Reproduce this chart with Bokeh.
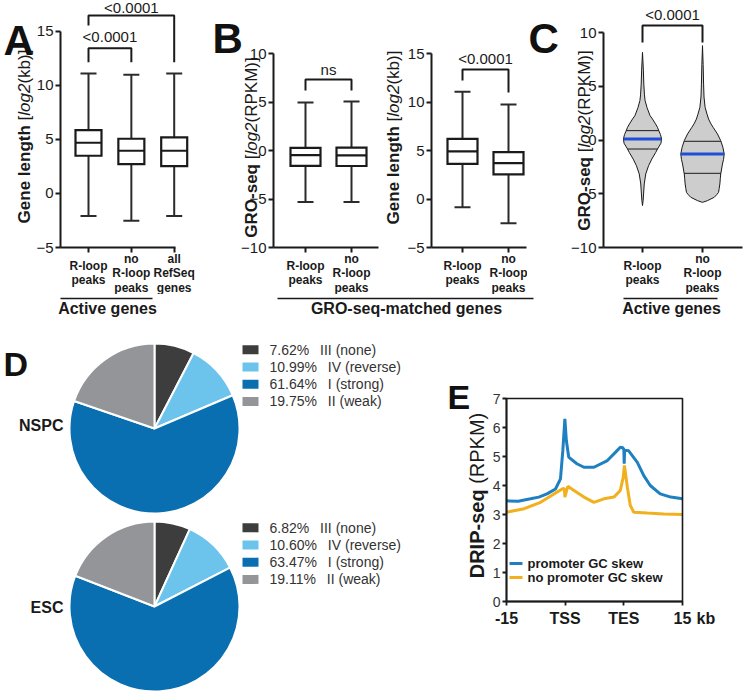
import math
import numpy as np
from bokeh.plotting import figure
from bokeh.models import Range1d, FixedTicker, BoxAnnotation
from bokeh.layouts import column, row
from bokeh.core.properties import value
from bokeh.embed import file_html
from bokeh.resources import INLINE

FONT = "Liberation Sans"
INK = "#1a1a1a"

# ---------------------------------------------------------------- data
# Panel A: gene length [log2(kb)] of active genes
a_categories = ["R-loop\npeaks", "no\nR-loop\npeaks", "all\nRefSeq\ngenes"]
a_low = [-2.1, -2.53, -2.1]
a_q1 = [3.48, 2.71, 2.52]
a_median = [4.68, 3.94, 3.94]
a_q3 = [5.85, 5.05, 5.17]
a_high = [11.09, 10.96, 11.09]
a_yticks = [-5, 0, 5, 10, 15]
a_pvalues = ["<0.0001", "<0.0001"]

# Panel B left: GRO-seq [log2(RPKM)] of GRO-seq-matched genes
b1_categories = ["R-loop\npeaks", "no\nR-loop\npeaks"]
b1_low = [-5.3, -5.3]
b1_q1 = [-1.58, -1.6]
b1_median = [-0.48, -0.5]
b1_q3 = [0.27, 0.3]
b1_high = [4.95, 5.05]
b1_yticks = [-10, -5, 0, 5, 10]
b1_pvalue = "ns"

# Panel B right: gene length [log2(kb)] of GRO-seq-matched genes
b2_categories = ["R-loop\npeaks", "no\nR-loop\npeaks"]
b2_low = [-0.85, -2.49]
b2_q1 = [3.63, 2.53]
b2_median = [4.9, 3.69]
b2_q3 = [6.2, 4.83]
b2_high = [11.05, 9.74]
b2_yticks = [-5, 0, 5, 10, 15]
b2_pvalue = "<0.0001"

# Panel C: GRO-seq violins of active genes (relative density profiles)
c_categories = ["R-loop\npeaks", "no\nR-loop\npeaks"]
c1_y = [8.15, 6.5, 5.2, 4.2, 3.66, 3.0, 2.26, 1.95, 1.5, 1.18, 0.87, 0.5, 0.09,
        -0.3, -0.84, -1.15, -1.77, -2.39, -3.16, -4.09, -5.02, -5.6, -6.1]
c1_density = [0.0, 0.04, 0.06, 0.09, 0.12, 0.21, 0.35, 0.46, 0.60, 0.69, 0.75, 0.83, 0.88,
              0.85, 0.69, 0.61, 0.43, 0.28, 0.15, 0.08, 0.05, 0.03, 0.0]
c2_y = [8.78, 7.0, 5.2, 4.0, 3.04, 2.4, 1.95, 1.5, 1.18, 0.56, -0.06, -0.68, -1.3,
        -1.8, -2.23, -2.7, -3.16, -3.6, -4.09, -4.5, -4.87, -5.1, -5.33, -5.64, -5.8]
c2_density = [0.0, 0.03, 0.05, 0.07, 0.12, 0.21, 0.28, 0.39, 0.49, 0.69, 0.84, 0.94, 1.0,
              0.97, 0.92, 0.88, 0.84, 0.82, 0.80, 0.77, 0.74, 0.65, 0.54, 0.23, 0.0]
c_q3 = [0.87, -0.12]
c_median = [0.09, -1.3]
c_q1 = [-0.84, -3.1]
c_yticks = [-10, -5, 0, 5, 10]
c_pvalue = "<0.0001"

# Panel D: promoter GC-skew classes
d_classes = ["III (none)", "IV (reverse)", "I (strong)", "II (weak)"]
d_nspc = [7.62, 10.99, 61.64, 19.75]
d_esc = [6.82, 10.60, 63.47, 19.11]
d_colors = ["#3d3d3d", "#6cc4ec", "#0a6fb1", "#939598"]

# Panel E: DRIP-seq metaplot (-15 kb, TSS, TES, +15 kb -> 0, 1, 2, 3)
e_xticks = [0, 1, 2, 3]
e_xtick_labels = ["-15", "TSS", "TES", "15"]
e_yticks = [0, 1, 2, 3, 4, 5, 6, 7]
e_blue_x = [0.0, 0.2, 0.41, 0.55, 0.69, 0.835, 0.92, 0.96, 0.995, 1.02, 1.06, 1.2, 1.32,
            1.49, 1.72, 1.86, 1.94, 1.98, 2.0, 2.006, 2.014, 2.08, 2.23, 2.34, 2.45,
            2.62, 2.8, 3.0]
e_blue_y = [3.47, 3.46, 3.54, 3.6, 3.71, 3.88, 4.23, 5.2, 6.3, 5.55, 4.98, 4.75, 4.63,
            4.63, 4.86, 5.15, 5.32, 5.3, 5.25, 4.75, 5.22, 5.2, 4.8, 4.34, 4.0,
            3.71, 3.6, 3.54]
e_orange_x = [0.0, 0.3, 0.58, 0.81, 0.95, 0.985, 0.995, 1.045, 1.15, 1.32, 1.49, 1.66,
              1.83, 1.94, 1.99, 2.01, 2.06, 2.11, 2.17, 2.4, 2.68, 3.0]
e_orange_y = [3.08, 3.2, 3.42, 3.71, 3.88, 3.9, 3.6, 3.97, 3.83, 3.6, 3.42, 3.54,
              3.6, 3.83, 4.29, 4.69, 3.94, 3.31, 3.08, 3.05, 3.02, 3.0]
e_series = ["promoter GC skew", "no promoter GC skew"]
E_BLUE = "#1f80c1"
E_ORANGE = "#f1b11f"

# ---------------------------------------------------------------- helpers
W_REG = {' ': 278, '[': 278, ']': 278, '(': 333, ')': 333, 'l': 222, 'o': 556, 'g': 556,
         '2': 556, 'k': 500, 'b': 556, 'R': 722, 'P': 667, 'K': 667, 'M': 833}
W_BOLD = {'G': 778, 'e': 556, 'n': 611, ' ': 278, 'l': 278, 'g': 611, 't': 333, 'h': 611,
          'R': 722, 'O': 778, '-': 333, 's': 556, 'q': 611, 'D': 722, 'I': 278, 'P': 667}


def text_w(s, style, size):
    tab = W_BOLD if style == "bold" else W_REG
    return sum(tab.get(c, 556) for c in s) * size / 1000.0


def make_fig(width, height, xr, yr, axes=True):
    kw = dict(width=width, height=height, x_range=Range1d(*xr), y_range=Range1d(*yr),
              output_backend="svg", toolbar_location=None, tools="", title=None,
              min_border_left=0, min_border_right=0, min_border_top=0, min_border_bottom=0)
    if not axes:
        kw.update(x_axis_type=None, y_axis_type=None)
    p = figure(**kw)
    p.grid.visible = False
    p.outline_line_color = None
    p.background_fill_color = "white"
    p.border_fill_color = "white"
    return p


def style_axis(ax, width=2, tick_out=5):
    ax.axis_line_width = width
    ax.axis_line_color = INK
    ax.major_tick_line_width = width
    ax.major_tick_line_color = INK
    ax.major_tick_out = tick_out
    ax.major_tick_in = 0
    ax.minor_tick_line_color = None


def txt(p, x, y, texts, size, style="normal", align="center", baseline="middle",
        angle=0.0, color=INK):
    p.text(x=x, y=y, text=texts, text_font=value(FONT), text_font_size=f"{size}px",
           text_font_style=style, text_align=align, text_baseline=baseline, angle=angle,
           text_color=color)


def add_ylabel(p, fx, fy, x_R, center_R, pieces, size):
    total = sum(text_w(t, s, size) for t, s in pieces)
    pos = center_R + total / 2.0
    for t, s in pieces:
        if t.strip():
            txt(p, [fx(x_R)], [fy(pos)], [t.strip()], size, style=s, align="left",
                angle=math.pi / 2)
        pos -= text_w(t, s, size)


TOP_H = 294
FRAME_BOTTOM = 247
FOOT_H = 28
BOT_H = 369
TOTAL_W = 743


def box_panel(g, cats, lows, q1, med, q3, highs, yticks, box_px, cap_px):
    fx = lambda X: (X - g["cat0"]) / g["xppu"]
    fy = lambda Y: g["ybottom"] + (FRAME_BOTTOM - Y) / g["yppu"]
    p = make_fig(g["width"], TOP_H, (fx(g["left"]), fx(g["left"] + g["width"])),
                 (fy(TOP_H), fy(0)))
    xs = list(range(len(cats)))
    if lows is not None:
        hb = box_px / 2.0 / g["xppu"]
        hc = cap_px / 2.0 / g["xppu"]
        p.segment(x0=xs, y0=q3, x1=xs, y1=highs, line_color="#2b2b2b", line_width=2)
        p.segment(x0=xs, y0=lows, x1=xs, y1=q1, line_color="#2b2b2b", line_width=2)
        p.segment(x0=[x - hc for x in xs], y0=highs, x1=[x + hc for x in xs], y1=highs,
                  line_color="#2b2b2b", line_width=2)
        p.segment(x0=[x - hc for x in xs], y0=lows, x1=[x + hc for x in xs], y1=lows,
                  line_color="#2b2b2b", line_width=2)
        p.quad(left=[x - hb for x in xs], right=[x + hb for x in xs], bottom=q1, top=q3,
               fill_color="white", line_color=INK, line_width=2.2, line_join="miter")
        p.segment(x0=[x - hb for x in xs], y0=med, x1=[x + hb for x in xs], y1=med,
                  line_color=INK, line_width=2.2)
    xa, ya = p.xaxis[0], p.yaxis[0]
    style_axis(xa)
    style_axis(ya)
    xa.fixed_location = yticks[0]
    ya.fixed_location = fx(g["axis"])
    xa.ticker = FixedTicker(ticks=xs)
    xa.bounds = (fx(g["axis"]), fx(g["axis_end"]))
    xa.major_label_text_color = None
    ya.ticker = FixedTicker(ticks=yticks)
    ya.bounds = (yticks[0], yticks[-1])
    ya.major_label_text_font = FONT
    ya.major_label_text_font_size = "15px"
    ya.major_label_text_color = INK
    ya.major_label_standoff = 2
    # category labels (multi-line, vertically centred)
    cx, cy, ct = [], [], []
    for i, c in enumerate(cats):
        lines = c.split("\n")
        n = len(lines)
        for j, ln in enumerate(lines):
            cx.append(i)
            cy.append(fy(272.5 + (j - (n - 1) / 2.0) * 14.5))
            ct.append(ln)
    txt(p, cx, cy, ct, 12, style="bold")
    return p, fx, fy


def bracket(p, fy, x0, x1, top_R, left_R, right_R, text, text_R, size=15):
    p.line(x=[x0, x0, x1, x1], y=[fy(left_R), fy(top_R), fy(top_R), fy(right_R)],
           line_color=INK, line_width=2)
    txt(p, [(x0 + x1) / 2.0], [fy(text_R)], [text], size)


def letter(p, fx, fy, x_R, base_R, s, size=42):
    txt(p, [fx(x_R)], [fy(base_R)], [s], size, style="bold", align="left",
        baseline="alphabetic", color="#111111")


GENE_LEN = [("Gene length ", "bold"), ("[", "normal"), ("log2", "italic"), ("(kb)]", "normal")]
GRO_SEQ = [("GRO-seq ", "bold"), ("[", "normal"), ("log2", "italic"), ("(RPKM)]", "normal")]

# ---------------------------------------------------------------- panel A
gA = dict(left=0, width=208, axis=60, axis_end=175, cat0=88, xppu=42.85,
          ybottom=-5, yppu=10.82)
pA, fxA, fyA = box_panel(gA, a_categories, a_low, a_q1, a_median, a_q3, a_high, a_yticks,
                         26, 16)
bracket(pA, fyA, 0, 1, 47.7, 61.7, 61.7, a_pvalues[0], 36)
bracket(pA, fyA, 0, 2, 15, 25, 61.7, a_pvalues[1], 7)
add_ylabel(pA, fxA, fyA, 24, 136, GENE_LEN, 17)
letter(pA, fxA, fyA, 3, 40, "A")

# ---------------------------------------------------------------- panel B left
gB1 = dict(left=208, width=175, axis=273, axis_end=378, cat0=305, xppu=46,
           ybottom=-10, yppu=9.7)
pB1, fxB1, fyB1 = box_panel(gB1, b1_categories, b1_low, b1_q1, b1_median, b1_q3, b1_high,
                            b1_yticks, 30, 16)
bracket(pB1, fyB1, 0, 1, 79, 90, 90, b1_pvalue, 69)
add_ylabel(pB1, fxB1, fyB1, 251, 147, GRO_SEQ, 17)
letter(pB1, fxB1, fyB1, 212, 38, "B")

# ---------------------------------------------------------------- panel B right
gB2 = dict(left=383, width=144, axis=431, axis_end=526, cat0=462, xppu=46,
           ybottom=-5, yppu=9.7)
pB2, fxB2, fyB2 = box_panel(gB2, b2_categories, b2_low, b2_q1, b2_median, b2_q3, b2_high,
                            b2_yticks, 30, 16)
bracket(pB2, fyB2, 0, 1, 69, 80, 92, b2_pvalue, 58)
add_ylabel(pB2, fxB2, fyB2, 393, 137, GENE_LEN, 17)

# ---------------------------------------------------------------- panel C
gC = dict(left=527, width=TOTAL_W - 527, axis=603, axis_end=742, cat0=642, xppu=60,
          ybottom=-10, yppu=10.75)
pC, fxC, fyC = box_panel(gC, c_categories, None, None, None, None, None, c_yticks, 0, 0)
V_SCALE = 21.7 / 60.0
for i, (vy, vd) in enumerate([(c1_y, c1_density), (c2_y, c2_density)]):
    hw = [d * V_SCALE for d in vd]
    xs = [i + h for h in hw] + [i - h for h in reversed(hw)]
    ys = list(vy) + list(reversed(vy))
    pC.patch(xs, ys, fill_color="#cdcdcd", line_color=INK, line_width=1)
    asc_y = list(reversed(vy))
    asc_d = list(reversed(vd))
    for qv, col, lw in [(c_q3[i], INK, 1), (c_q1[i], INK, 1), (c_median[i], "#1f4fd8", 3)]:
        h = float(np.interp(qv, asc_y, asc_d)) * V_SCALE
        pC.segment(x0=[i - h], y0=[qv], x1=[i + h], y1=[qv], line_color=col, line_width=lw)
bracket(pC, fyC, 0, 1, 25, 42, 42, c_pvalue, 14)
add_ylabel(pC, fxC, fyC, 584, 140, GRO_SEQ, 17)
letter(pC, fxC, fyC, 528, 38, "C")

# ---------------------------------------------------------------- foot (group labels)
pF = make_fig(TOTAL_W, FOOT_H, (0, TOTAL_W), (FOOT_H, 0), axes=False)
pF.segment(x0=[60, 277, 623], y0=[4, 4, 4], x1=[152, 533, 717], y1=[4, 4, 4],
           line_color=INK, line_width=1.5)
txt(pF, [107, 406, 671], [14, 14, 14],
    ["Active genes", "GRO-seq-matched genes", "Active genes"], 16, style="bold")

# ---------------------------------------------------------------- panel D (pies)
D_W = 440
pD = make_fig(D_W, BOT_H, (0, D_W), (0, BOT_H), axes=False)
fyD = lambda Y: (322 + BOT_H) - Y
R = 85
for cy_R, vals, name, name_R, leg_R in [(428, d_nspc, "NSPC", 425, 349.3),
                                         (606, d_esc, "ESC", 607, 527.3)]:
    cum = np.cumsum([0] + vals) / 100.0
    starts = [math.pi / 2 - 2 * math.pi * c for c in cum[:-1]]
    ends = [math.pi / 2 - 2 * math.pi * c for c in cum[1:]]
    pD.wedge(x=154, y=fyD(cy_R), radius=R, start_angle=starts, end_angle=ends,
             direction="clock", fill_color=d_colors, line_color="white", line_width=2)
    txt(pD, [63], [fyD(name_R)], [name], 16, style="bold", align="right")
    ly = [fyD(leg_R + 17.2 * k) for k in range(len(vals))]
    pD.rect(x=[250] * len(vals), y=ly, width=16, height=9, fill_color=d_colors,
            line_color=None)
    txt(pD, [269] * len(vals), ly, [f"{v:.2f}%\u2002 {c}" for v, c in zip(vals, d_classes)],
        14, align="left", color="#333333")
txt(pD, [3], [fyD(363)], ["D"], 34, style="bold", align="left", baseline="alphabetic",
    color="#111111")

# ---------------------------------------------------------------- panel E
fxE = lambda X: (X - 506) / (176 / 3.0)
fyE = lambda Y: (601 - Y) / 29.0
pE = make_fig(TOTAL_W - D_W, BOT_H, (fxE(D_W), fxE(TOTAL_W)), (fyE(322 + BOT_H), fyE(322)))
pE.add_layout(BoxAnnotation(left=0, right=3, bottom=0, top=7, fill_color=None,
                            fill_alpha=0, line_color=INK, line_alpha=1.0, line_width=1.6))
pE.line(e_orange_x, e_orange_y, line_color=E_ORANGE, line_width=3)
pE.line(e_blue_x, e_blue_y, line_color=E_BLUE, line_width=3)
xa, ya = pE.xaxis[0], pE.yaxis[0]
style_axis(xa, 1.8, 4)
style_axis(ya, 1.8, 4)
xa.fixed_location = 0
ya.fixed_location = 0
xa.bounds = (0, 3)
ya.bounds = (0, 7)
xa.ticker = FixedTicker(ticks=e_xticks)
xa.major_label_overrides = {t: lab for t, lab in zip(e_xticks, e_xtick_labels)}
xa.major_label_text_font = FONT
xa.major_label_text_font_size = "16px"
xa.major_label_text_font_style = "bold"
xa.major_label_text_color = INK
xa.major_label_standoff = 4
ya.ticker = FixedTicker(ticks=e_yticks)
ya.major_label_text_font = FONT
ya.major_label_text_font_size = "14px"
ya.major_label_text_color = "#333333"
ya.major_label_standoff = 2
txt(pE, [fxE(696)], [fyE(618)], ["kb"], 16, style="bold", align="left")
for k, (name, col) in enumerate(zip(e_series, [E_BLUE, E_ORANGE])):
    yy = fyE(563 + 14 * k)
    pE.segment(x0=[fxE(509)], y0=[yy], x1=[fxE(522)], y1=[yy], line_color=col, line_width=3)
    txt(pE, [fxE(527)], [yy], [name], 13, style="bold", align="left")
add_ylabel(pE, fxE, fyE, 476, 495, [("DRIP-seq ", "bold"), ("(RPKM)", "normal")], 20)
txt(pE, [fxE(447)], [fyE(396)], ["E"], 34, style="bold", align="left", baseline="alphabetic",
    color="#111111")

layout = column(row(pA, pB1, pB2, pC), pF, row(pD, pE))
open("out.html", "w").write(file_html(layout, INLINE))
